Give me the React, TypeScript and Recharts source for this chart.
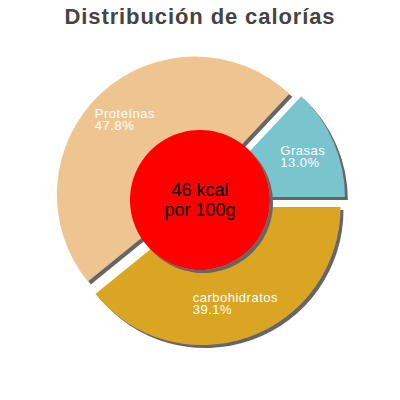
import { PieChart, Pie, Cell } from "recharts";

const TITLE = "Distribución de calorías";
const NUTRIENTS = ["Grasas", "Proteínas", "carbohidratos"];
const SHARES = [13.0, 47.8, 39.1];
const COLORS = ["#7ac5cd", "#eec591", "#daa520"];
const KCAL = 46;
const PER = "por 100g";

const FONT = "'Liberation Sans', Arial, Helvetica, sans-serif";
const RADIAN = Math.PI / 180;
const EXPLODE = 7.5;

const sliceData = NUTRIENTS.map((name, i) => ({ name, value: SHARES[i] }));
const centerData = [{ name: "kcal", value: KCAL }];

// mid angle of each slice, the same way recharts lays them out (start at 0, counter-clockwise)
const total = SHARES.reduce((a, b) => a + b, 0);
const midAngles = SHARES.map((v, i) => {
  const before = SHARES.slice(0, i).reduce((a, b) => a + b, 0);
  return ((before + v / 2) / total) * 360;
});

const explode = (angle: number) => ({
  dx: EXPLODE * Math.cos(angle * RADIAN),
  dy: -EXPLODE * Math.sin(angle * RADIAN),
});

const renderSliceLabel = (props: any) => {
  const { cx, cy, midAngle, outerRadius, value } = props;
  const name = props.name ?? props.payload?.name;
  const { dx, dy } = explode(midAngle);
  const r = outerRadius * 0.74;
  const x = cx + dx + r * Math.cos(-midAngle * RADIAN);
  const y = cy + dy + r * Math.sin(-midAngle * RADIAN);
  const pct = `${Number(value).toFixed(1)}%`;
  const w = Math.max(name.length, pct.length) * 13 * 0.52;
  const left = x - w / 2;
  return (
    <text x={left} y={y - 1.5} fill="#fff" fontSize={13} fontFamily={FONT} letterSpacing={0.5}>
      <tspan x={left}>{name}</tspan>
      <tspan x={left} dy={11.7}>
        {pct}
      </tspan>
    </text>
  );
};

const renderCenterLabel = (props: any) => {
  const { cx, cy, value } = props;
  return (
    <text x={cx} y={cy - 4} fill="#000" fontSize={18} fontFamily={FONT} textAnchor="middle">
      <tspan x={cx}>{`${value} kcal`}</tspan>
      <tspan x={cx} dy={20}>
        {PER}
      </tspan>
    </text>
  );
};

export default function App() {
  return (
    <div style={{ position: "absolute", left: 0, top: 0, width: 400, height: 400, background: "#fff" }}>
      <div
        style={{
          position: "absolute",
          top: 6,
          width: 400,
          textAlign: "center",
          fontFamily: FONT,
          fontWeight: "bold",
          fontSize: 22,
          lineHeight: "22px",
          letterSpacing: 0.9,
          color: "#444",
        }}
      >
        {TITLE}
      </div>
      <PieChart width={400} height={400} margin={{ top: 0, right: 0, bottom: 0, left: 0 }}>
        <defs>
          <filter id="drop" x="-20%" y="-20%" width="140%" height="140%">
            <feDropShadow dx="3" dy="3" stdDeviation="0" floodColor="#666" floodOpacity="1" />
          </filter>
        </defs>
        <Pie
          data={sliceData}
          dataKey="value"
          nameKey="name"
          cx={200}
          cy={200}
          outerRadius={138}
          startAngle={0}
          endAngle={360}
          stroke="none"
          label={renderSliceLabel}
          labelLine={false}
          isAnimationActive={false}
        >
          {sliceData.map((d, i) => {
            const { dx, dy } = explode(midAngles[i]);
            return (
              <Cell
                key={d.name}
                fill={COLORS[i]}
                transform={`translate(${dx},${dy})`}
                filter="url(#drop)"
              />
            );
          })}
        </Pie>
        <Pie
          data={centerData}
          dataKey="value"
          cx={200}
          cy={200}
          outerRadius={70}
          stroke="none"
          label={renderCenterLabel}
          labelLine={false}
          isAnimationActive={false}
        >
          <Cell fill="#ff0000" filter="url(#drop)" />
        </Pie>
      </PieChart>
    </div>
  );
}
